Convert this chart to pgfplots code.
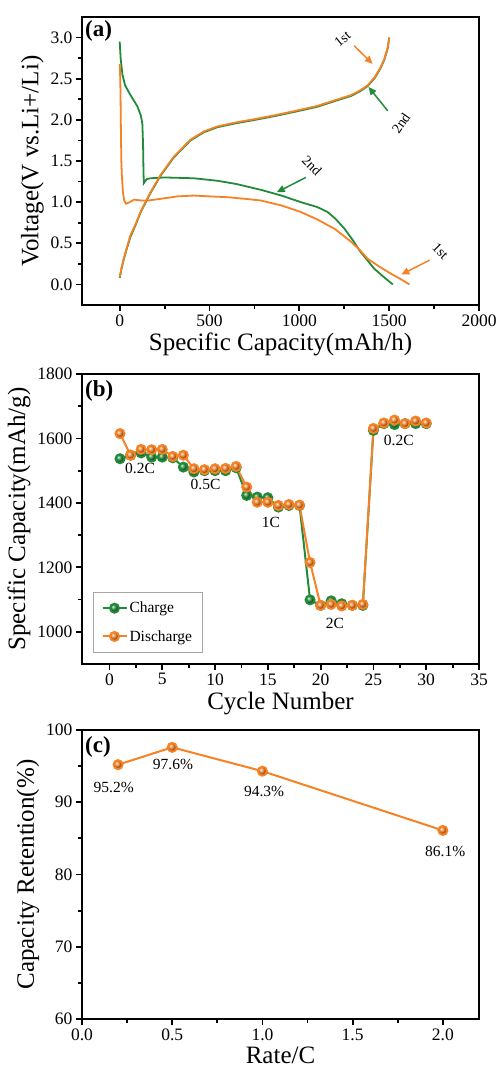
\documentclass[border=0pt]{standalone}
\usepackage{pgfplots}
\pgfplotsset{compat=1.18}
\usepackage{fontspec}
\setmainfont{Liberation Serif}
\usetikzlibrary{arrows.meta}
\definecolor{cor}{RGB}{246,130,38}
\definecolor{cgr}{RGB}{34,139,58}
\newcommand\tickfont{\fontsize{17.5}{17.5}\selectfont}
\newcommand\labfont{\fontsize{25}{25}\selectfont}
\newcommand\anfont{\fontsize{14}{14}\selectfont}
\newcommand\legfont{\fontsize{15.5}{15.5}\selectfont}
\newcommand\panfont{\fontsize{23}{23}\selectfont\bfseries}
\pgfplotsset{
 myaxis/.style={
  scale only axis, width=397pt, anchor=south west,
  axis line style={line width=2.5pt},
  tick pos=left, tick align=outside,
  major tick length=6pt, minor tick length=4pt,
  tick style={line width=1.8pt, black},
  minor x tick num=1, minor y tick num=1,
  tick label style={font=\tickfont},
  label style={font=\labfont},
  /pgf/number format/assume math mode=true,
  /pgf/number format/1000 sep={},
  clip=false,
 },
}
\begin{document}
\begin{tikzpicture}
\path[use as bounding box] (0pt,0pt) rectangle (499pt,1072pt);
% ---------------- (a)
\begin{axis}[myaxis, at={(82pt,767pt)}, height=288pt,
 xmin=-210, xmax=2000, ymin=-0.25, ymax=3.25,
 xtick={0,500,1000,1500,2000}, ytick={0,0.5,1,1.5,2,2.5,3},
 yticklabel style={/pgf/number format/.cd, fixed, fixed zerofill, precision=1},
 xlabel={Specific Capacity(mAh/h)}, ylabel={Voltage(V vs.Li+/Li)}]
\addplot[cgr, line width=1.8pt] coordinates {(0,2.95) (5,2.75) (15,2.55) (30,2.42) (60,2.30) (97,2.17) (118,2.05) (126,1.95) (130,1.7) (132,1.4) (134,1.23) (150,1.28) (171,1.29) (250,1.30) (413,1.29) (543,1.26) (650,1.22) (785,1.15) (900,1.08) (1008,1.0) (1100,0.94) (1157,0.88) (1200,0.80) (1250,0.68) (1300,0.53) (1334,0.415) (1380,0.29) (1417,0.19) (1470,0.09) (1520,0.0)};
\addplot[cor, line width=1.8pt] coordinates {(0,2.68) (3,2.5) (5,2.2) (7,1.8) (9,1.5) (12,1.32) (18,1.12) (25,1.02) (35,0.98) (55,1.0) (80,1.03) (120,1.02) (160,1.02) (227,1.04) (320,1.07) (412,1.08) (500,1.07) (600,1.06) (700,1.04) (785,1.02) (900,0.96) (1008,0.88) (1100,0.79) (1200,0.67) (1287,0.52) (1340,0.41) (1381,0.31) (1450,0.21) (1510,0.13) (1560,0.07) (1613,0.0)};
\addplot[cgr, line width=1.8pt] coordinates {(0,0.08) (10,0.19) (22,0.30) (40,0.44) (60,0.58) (88,0.72) (115,0.87) (171,1.11) (227,1.32) (300,1.54) (394,1.75) (469,1.85) (543,1.91) (650,1.96) (729,1.99) (850,2.04) (915,2.07) (1000,2.11) (1101,2.16) (1200,2.23) (1287,2.29) (1340,2.35) (1380,2.41) (1420,2.51) (1450,2.62) (1473,2.73) (1492,2.87) (1500,3.0)};
\addplot[cor, line width=1.8pt] coordinates {(0,0.09) (10,0.2) (22,0.31) (40,0.45) (60,0.6) (88,0.73) (115,0.88) (171,1.12) (227,1.33) (300,1.55) (394,1.76) (469,1.86) (543,1.92) (650,1.97) (729,2.0) (850,2.05) (915,2.08) (1000,2.12) (1101,2.17) (1200,2.24) (1287,2.30) (1340,2.36) (1380,2.42) (1420,2.52) (1450,2.63) (1473,2.74) (1492,2.88) (1501,3.0)};
\node[font=\anfont, rotate=40, inner sep=1pt] at (axis cs:1240,2.98) {1st};
\draw[cor, line width=1.5pt, -{Triangle[length=8pt,width=7pt]}] (axis cs:1305,2.90) -- (axis cs:1408,2.68);
\node[font=\anfont, rotate=55, inner sep=1pt] at (axis cs:1565,1.96) {2nd};
\draw[cgr, line width=1.5pt, -{Triangle[length=8pt,width=7pt]}] (axis cs:1492,2.11) -- (axis cs:1385,2.40);
\node[font=\anfont, rotate=-45, inner sep=1pt] at (axis cs:1070,1.44) {2nd};
\draw[cgr, line width=1.5pt, -{Triangle[length=8pt,width=7pt]}] (axis cs:1036,1.30) -- (axis cs:874,1.12);
\node[font=\anfont, rotate=-45, inner sep=1pt] at (axis cs:1785,0.40) {1st};
\draw[cor, line width=1.5pt, -{Triangle[length=8pt,width=7pt]}] (axis cs:1725,0.295) -- (axis cs:1567,0.12);
\node[font=\panfont, anchor=north west, inner sep=3pt] at (rel axis cs:0,1) {(a)};
\end{axis}
% ---------------- (b)
\begin{axis}[myaxis, at={(82pt,408pt)}, height=290pt,
 xmin=-2.6, xmax=35, ymin=900, ymax=1800,
 xtick={0,5,...,35}, ytick={1000,1200,1400,1600,1800},
 xlabel={Cycle Number}, ylabel={Specific Capacity(mAh/g)},
 legend style={at={(0.028,0.038)}, anchor=south west, draw=gray!70, line width=0.8pt,
   font=\legfont, inner xsep=8pt, inner ysep=8pt, row sep=12pt, cells={anchor=west}},
 legend image code/.code={\draw[mark repeat=2,mark phase=2] plot coordinates {(0pt,0pt)(12pt,0pt)(24pt,0pt)};}]
\addplot[cgr, line width=2pt, mark=ball, mark size=4.5pt, mark options={ball color=cgr}] coordinates {(1,1537) (2,1548) (3,1555) (4,1542) (5,1542) (6,1540) (7,1511) (8,1496) (9,1500) (10,1500) (11,1500) (12,1509) (13,1423) (14,1418) (15,1416) (16,1387) (17,1392) (18,1392) (19,1099) (20,1082) (21,1096) (22,1087) (23,1082) (24,1082) (25,1625) (26,1646) (27,1643) (28,1646) (29,1646) (30,1646)};
\addlegendentry{Charge}
\addplot[cor, line width=2pt, mark=ball, mark size=4.5pt, mark options={ball color=cor}] coordinates {(1,1615) (2,1548) (3,1566) (4,1565) (5,1566) (6,1544) (7,1548) (8,1506) (9,1503) (10,1506) (11,1507) (12,1513) (13,1449) (14,1402) (15,1402) (16,1392) (17,1395) (18,1393) (19,1215) (20,1082) (21,1085) (22,1080) (23,1082) (24,1085) (25,1631) (26,1648) (27,1657) (28,1646) (29,1654) (30,1648)};
\addlegendentry{Discharge}
\node[font=\legfont] at (axis cs:2.9,1506) {0.2C};
\node[font=\legfont] at (axis cs:9.1,1457) {0.5C};
\node[font=\legfont] at (axis cs:15.3,1338) {1C};
\node[font=\legfont] at (axis cs:21.35,1026) {2C};
\node[font=\legfont] at (axis cs:27.4,1594) {0.2C};
\node[font=\panfont, anchor=north west, inner sep=3pt] at (rel axis cs:0,0.99) {(b)};
\end{axis}
% ---------------- (c)
\begin{axis}[myaxis, at={(82pt,53pt)}, height=289pt,
 xmin=0, xmax=2.2, ymin=60, ymax=100,
 xtick={0,0.5,1,1.5,2}, ytick={60,70,80,90,100},
 xticklabel style={/pgf/number format/.cd, fixed, fixed zerofill, precision=1},
 xlabel={Rate/C}, ylabel={Capacity Retention(\%)}]
\addplot[cor, line width=2pt, mark=ball, mark size=4.5pt, mark options={ball color=cor}] coordinates {(0.2,95.2) (0.5,97.6) (1.0,94.3) (2.0,86.1)};
\node[font=\legfont] at (axis cs:0.176,92.1) {95.2\%};
\node[font=\legfont] at (axis cs:0.504,95.25) {97.6\%};
\node[font=\legfont] at (axis cs:1.009,91.5) {94.3\%};
\node[font=\legfont] at (axis cs:2.013,83.2) {86.1\%};
\node[font=\panfont, anchor=north west, inner sep=3pt] at (rel axis cs:0,0.99) {(c)};
\end{axis}
\end{tikzpicture}
\end{document}
